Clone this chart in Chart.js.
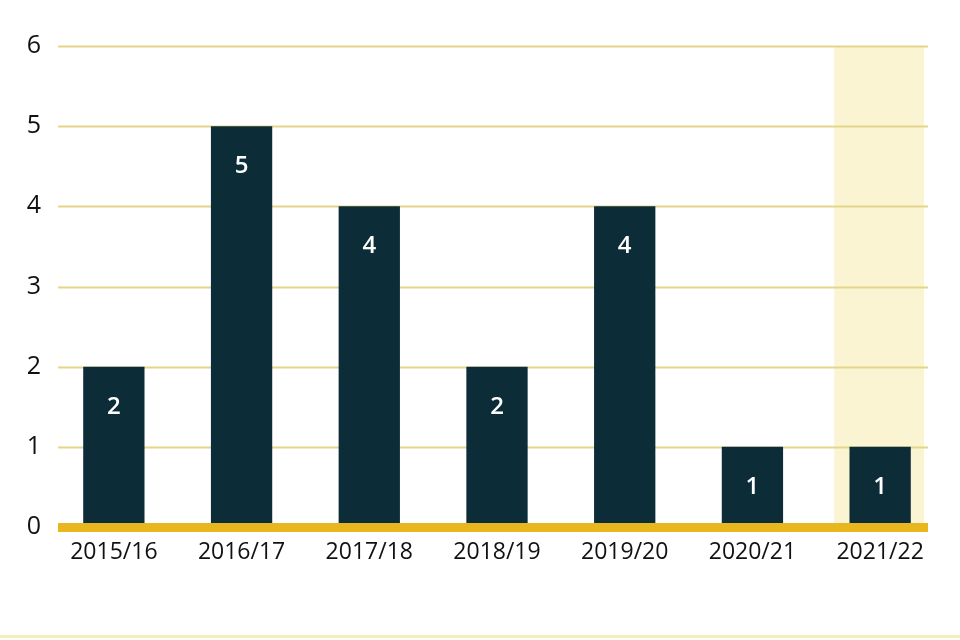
<!DOCTYPE html>
<html>
<head>
<meta charset="utf-8">
<script src="https://cdn.jsdelivr.net/npm/chart.js@4"></script>
<style>
  html, body { margin: 0; padding: 0; background: #fff; }
  #wrap { width: 960px; height: 640px; }
</style>
</head>
<body>
<div id="wrap"><canvas id="yearChart" width="960" height="640"></canvas></div>
<script>
// chart data
const years = ['2015/16', '2016/17', '2017/18', '2018/19', '2019/20', '2020/21', '2021/22'];
const counts = [2, 5, 4, 2, 4, 1, 1];
const yTicks = [0, 1, 2, 3, 4, 5, 6];
const highlightYear = '2021/22';

const barColour = '#0c2c38';
const gridColour = '#e3d58a';
const baseColour = '#e8b61e';

// grid lines, highlight band, baseline, value labels
const decor = {
    id: 'decor',
    beforeDatasetsDraw(chart) {
        const { ctx, scales: { x, y } } = chart;
        const left = 58, right = 928;
        ctx.save();
        // highlight band for latest year
        const i = years.indexOf(highlightYear);
        const cx = x.getPixelForValue(i);
        ctx.fillStyle = '#fbf4d3';
        ctx.fillRect(cx - 46, y.getPixelForValue(6), 90, y.getPixelForValue(0) - y.getPixelForValue(6));
        // horizontal grid
        ctx.strokeStyle = gridColour;
        ctx.lineWidth = 2;
        yTicks.forEach(v => {
            if (v === 0) return;
            const py = Math.round(y.getPixelForValue(v)) + 0.5;
            ctx.beginPath();
            ctx.moveTo(left, py);
            ctx.lineTo(right, py);
            ctx.stroke();
        });
        ctx.restore();
    },
    afterDatasetsDraw(chart) {
        const { ctx, scales: { x, y } } = chart;
        const left = 58, right = 928;
        ctx.save();
        // thick baseline
        ctx.fillStyle = baseColour;
        ctx.fillRect(left, y.getPixelForValue(0) - 4, right - left, 9);
        // value labels inside bars
        ctx.fillStyle = '#ffffff';
        ctx.font = '600 24px "Open Sans"';
        ctx.textAlign = 'center';
        ctx.textBaseline = 'middle';
        counts.forEach((v, i) => {
            ctx.fillText(String(v), x.getPixelForValue(i), y.getPixelForValue(v) + 40);
        });
        // thin rule at the bottom
        ctx.fillStyle = '#f7eeb8';
        ctx.fillRect(0, 635, chart.width, 3);
        ctx.restore();
    }
};

new Chart(document.getElementById('yearChart'), {
    type: 'bar',
    data: {
        labels: years,
        datasets: [{
            data: counts,
            backgroundColor: barColour,
            barPercentage: 0.6,
            categoryPercentage: 0.8
        }]
    },
    options: {
        responsive: false,
        animation: false,
        layout: { padding: { top: 46, right: 16, left: 3, bottom: 0 } },
        plugins: {
            legend: { display: false },
            tooltip: { enabled: false }
        },
        scales: {
            x: {
                grid: { display: false, drawTicks: false },
                border: { display: false },
                ticks: { color: '#111', font: { family: 'Open Sans', size: 23 }, padding: 12 },
                afterFit: s => { s.height = 113; }
            },
            y: {
                min: 0,
                max: 6,
                grid: { display: false, drawTicks: false },
                border: { display: false },
                ticks: { stepSize: 1, color: '#111', font: { family: 'Open Sans', size: 25, weight: '500' }, padding: 9 },
                afterFit: s => { s.width = 47; }
            }
        }
    },
    plugins: [decor]
});
</script>
</body>
</html>
